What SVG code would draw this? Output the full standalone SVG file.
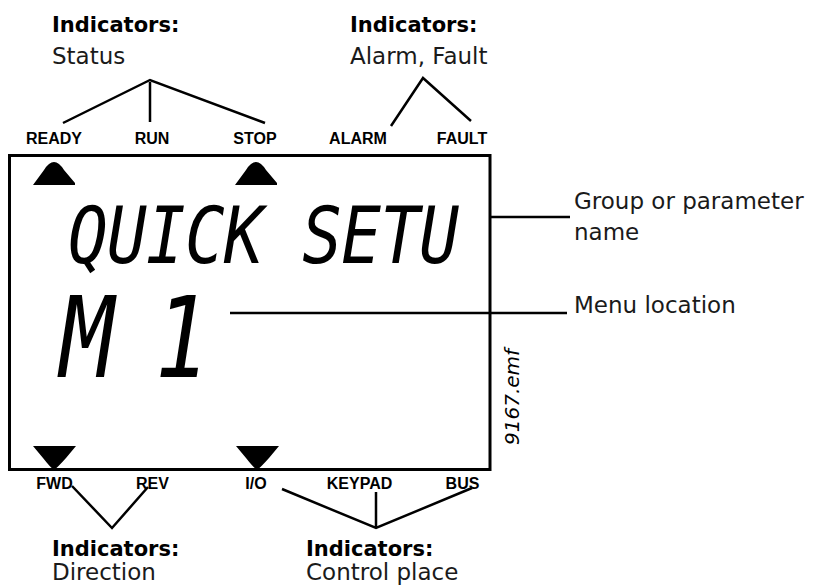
<svg xmlns="http://www.w3.org/2000/svg" width="816" height="586" viewBox="0 0 816 586">
<style>
.h{font-family:"DejaVu Sans",sans-serif;font-weight:bold;font-size:21px;fill:#000}
.r{font-family:"DejaVu Sans",sans-serif;font-size:23px;fill:#1a1a1a}
.ind{font-family:"Liberation Sans",Arial,sans-serif;font-weight:bold;font-size:16px;fill:#000;text-anchor:middle}
.lcd{font-family:"DejaVu Sans Mono",monospace;font-style:oblique;fill:#000}
.ln{stroke:#000;stroke-width:2.5;fill:none}
.frame{stroke:#000;stroke-width:3;fill:#fff}
.tri{fill:#000}
</style>
<rect width="816" height="586" fill="#fff"/>
<g id="display">
<rect class="frame" x="9.5" y="155.5" width="480.5" height="314"/>
<path class="tri" d="M33,185 L44,170 Q54,154 64,170 L75,183 L75,185 Z"/>
<path class="tri" d="M235,185 L246,170 Q256,154 266,170 L277,183 L277,185 Z"/>
<path class="tri" d="M33,446 L76,446 L66,458 Q58,467 54,470 Q50,467 43,458 Z"/>
<path class="tri" d="M236,446 L279,446 L269,458 Q261,467 257,470 Q253,467 246,458 Z"/>
<text class="lcd" font-size="66" letter-spacing="-0.7" transform="translate(68,263) scale(1,1.2)">QUICK SETU</text>
<text class="lcd" font-size="90" transform="translate(60,377) scale(1,1.25)">M</text>
<text class="lcd" font-size="90" transform="translate(155,377) scale(1,1.25)">1</text>
</g>
<g id="status-indicators">
<text class="ind" x="54" y="144">READY</text>
<text class="ind" x="152" y="144">RUN</text>
<text class="ind" x="255" y="144">STOP</text>
<text class="h" x="52" y="32">Indicators:</text>
<text class="r" x="52" y="64">Status</text>
</g>
<g id="alarm-indicators">
<text class="ind" x="358" y="144">ALARM</text>
<text class="ind" x="462" y="144">FAULT</text>
<text class="h" x="350" y="32">Indicators:</text>
<text class="r" x="350" y="64">Alarm, Fault</text>
</g>
<g id="direction-indicators">
<text class="ind" x="54.5" y="489">FWD</text>
<text class="ind" x="152.5" y="489">REV</text>
<text class="h" x="52" y="556">Indicators:</text>
<text class="r" x="52" y="580">Direction</text>
</g>
<g id="control-indicators">
<text class="ind" x="256" y="489">I/O</text>
<text class="ind" x="359.5" y="489">KEYPAD</text>
<text class="ind" x="462.5" y="489">BUS</text>
<text class="h" x="306" y="556">Indicators:</text>
<text class="r" x="306" y="580">Control place</text>
</g>
<g id="group-name-label">
<text class="r" x="574" y="209">Group or parameter</text>
<text class="r" x="574" y="240">name</text>
</g>
<g id="menu-location-label">
<text class="r" x="574" y="313">Menu location</text>
</g>
<g id="figure-id">
<text font-family="DejaVu Sans,sans-serif" font-style="oblique" font-size="20" fill="#000" transform="translate(519,445) rotate(-90)">9167.emf</text>
</g>
<g id="connectors">
<path class="ln" d="M63,123 L150,80 L265,123 M150,82 L150,122"/>
<path class="ln" d="M391,126 L423,78 L471,121"/>
<path class="ln" d="M72,486 L112,528 L148,487"/>
<path class="ln" d="M282,489 L376,528 L472,488 M376,492 L376,528"/>
<path class="ln" d="M490,217 L570,217"/>
<path class="ln" d="M230,313 L567,313"/>
</g>
</svg>
